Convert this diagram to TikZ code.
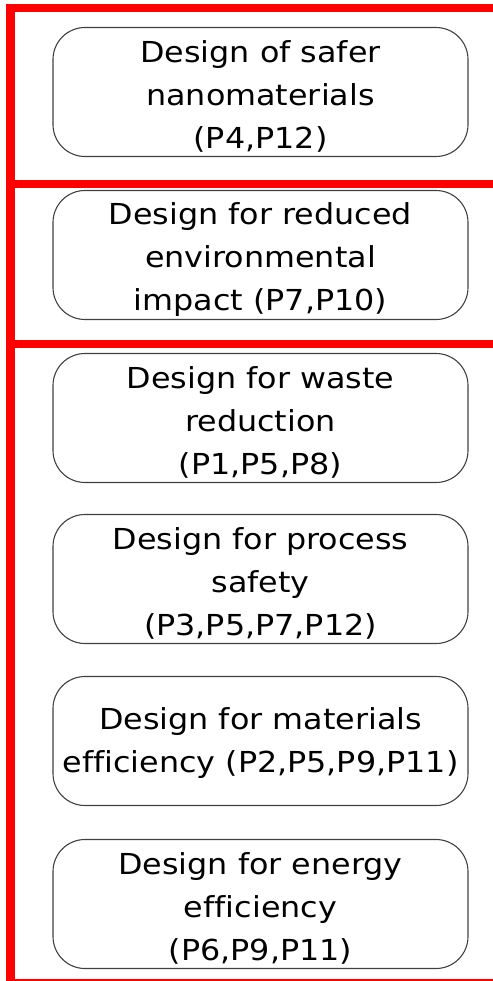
\documentclass[tikz,border=0pt]{standalone}
\usepackage{fontspec}
\setmainfont{DejaVu Sans}[FakeStretch=1.1,Ligatures=NoCommon]
\begin{document}
\begin{tikzpicture}[x=1bp,y=-1bp,
  redrule/.style={draw=red,line width=8.5bp},
  designbox/.style={draw=black!75,line width=1.1bp,rounded corners=32bp,
    minimum width=415bp,minimum height=129bp,inner sep=0pt},
  designtext/.style={align=center,inner sep=0pt,
    font=\fontsize{29}{43}\selectfont}]
\useasboundingbox (0,0) rectangle (493,981);
% frame and separators
\draw[redrule] (6,8.2) -- (493,8.2);
\draw[draw=red,line width=9bp] (10.5,4) -- (10.5,981);
\draw[redrule] (15,184) -- (493,184);
\draw[redrule] (15,344) -- (493,344);
\draw[draw=red,line width=1.6bp] (15,980) -- (493,980);
% design principle boxes
\node[designbox] (safer) at (260.5,92) {};
\node[designbox] (env) at (260.5,255) {};
\node[designbox] (waste) at (260.5,418) {};
\node[designbox] (process) at (260.5,579) {};
\node[designbox] (materials) at (260.5,741) {};
\node[designbox] (energy) at (260.5,904) {};
% their labels, set slightly below the box centres
\node[designtext,yshift=-4.5bp] (safer-t) at (safer) {Design of safer\\nanomaterials\\(P4,P12)};
\node[designtext,yshift=-4.5bp] (env-t) at (env) {Design for reduced\\environmental\\impact (P7,P10)};
\node[designtext,yshift=-4.5bp] (waste-t) at (waste) {Design for waste\\reduction\\(P1,P5,P8)};
\node[designtext,yshift=-4.5bp] (process-t) at (process) {Design for process\\safety\\(P3,P5,P7,P12)};
\node[designtext,yshift=-2bp] (materials-t) at (materials) {Design for materials\\efficiency (P2,P5,P9,P11)};
\node[designtext,yshift=-4.5bp] (energy-t) at (energy) {Design for energy\\efficiency\\(P6,P9,P11)};
\end{tikzpicture}
\end{document}
